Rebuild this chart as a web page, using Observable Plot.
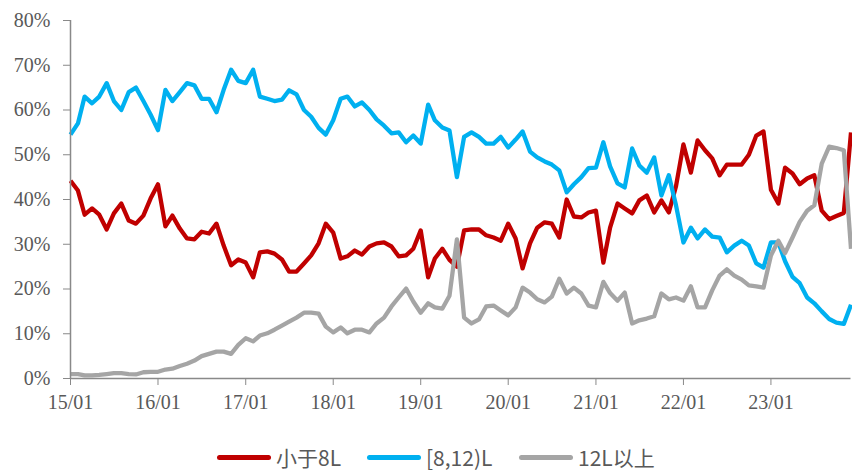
<!DOCTYPE html>
<html>
<head>
<meta charset="utf-8">
<script src="https://cdn.jsdelivr.net/npm/d3@7"></script>
<script src="https://cdn.jsdelivr.net/npm/@observablehq/plot@0.6"></script>
<style>
  html, body { margin: 0; padding: 0; background: #fff; }
  body { width: 852px; height: 472px; overflow: hidden; position: relative; }
  #chart svg text { fill: #595959; }
  #legend { position: absolute; left: 0; top: 440px; width: 852px; height: 32px; }
  .item { position: absolute; top: 1px; height: 32px; display: flex; align-items: center;
          font-family: "Noto Sans CJK SC", "Noto Sans", sans-serif; font-size: 21px; color: #595959; white-space: nowrap; }
  .sw { display: inline-block; width: 54px; height: 5px; border-radius: 3px; margin-right: 5px; }
</style>
</head>
<body>
<div id="chart"></div>
<div id="legend"></div>
<script>
// ---- data (percent), monthly from 2015-01 to 2023-12 ----
const seriesNames = ["小于8L", "[8,12)L", "12L以上"];
const seriesColors = ["#C00000", "#00B0F0", "#A5A5A5"];

const small = [
  44.2, 42, 36.6, 38, 36.6, 33.3, 36.9, 39.1, 35.3, 34.6, 36.4, 40.2,
  43.4, 34, 36.4, 33.5, 31.3, 31.1, 32.8, 32.4, 34.6, 29.7, 25.3, 26.6,
  25.9, 22.6, 28.2, 28.4, 27.9, 26.6, 23.9, 23.9, 25.7, 27.5, 30.2, 34.6,
  32.6, 26.8, 27.3, 28.6, 27.7, 29.5, 30.2, 30.4, 29.5, 27.3, 27.5, 29,
  33.1, 22.6, 26.8, 29, 26.5, 25, 33.1, 33.3, 33.3, 32, 31.5, 30.8,
  34.6, 31.3, 24.6, 30.2, 33.7, 34.9, 34.6, 31.5, 40, 36.2, 36, 37.1,
  37.5, 25.9, 33.7, 39.1, 38, 36.9, 39.8, 40.9, 37.1, 39.8, 37.1, 43,
  52.3, 46, 53.2, 51, 49.2, 45.4, 47.8, 47.8, 47.8, 50, 54.3, 55.2,
  42.2, 39.1, 47.1, 45.8, 43.4, 44.7, 45.4, 37.5, 35.6, 36.3, 37, 55
];
const mid = [
  54.5, 57, 63, 61.5, 63, 66, 62, 60, 64, 65, 62, 59,
  55.5, 64.5, 62, 64, 66, 65.5, 62.5, 62.5, 59.5, 64.5, 69, 66.5,
  66, 69, 63, 62.5, 62, 62.3, 64.4, 63.5, 60, 58.5, 56, 54.5,
  57.7, 62.5, 63, 60.8, 61.7, 60, 57.9, 56.5, 54.8, 55, 52.8, 54.3,
  52.5, 61.2, 57.7, 56.1, 55.4, 45, 54, 55, 54, 52.5, 52.5, 54,
  51.6, 53.4, 55.2, 50.7, 49.4, 48.5, 47.8, 46.5, 41.6, 43.4, 45, 47,
  47.1, 52.8, 47.4, 43.6, 42.7, 51.4, 47.6, 46, 49.4, 40.9, 45.4, 38.7,
  30.4, 33.7, 31.3, 33.3, 31.7, 31.5, 28.2, 29.7, 30.8, 29.7, 25.7, 24.8,
  30.4, 30.4, 26.2, 22.7, 21.3, 18.1, 16.8, 15, 13.3, 12.5, 12.2, 16.5
];
const large = [
  1.0, 1.0, 0.7, 0.7, 0.8, 1.0, 1.2, 1.2, 1.0, 0.9, 1.4, 1.5,
  1.5, 2.0, 2.2, 2.8, 3.3, 4.0, 5.0, 5.5, 6.0, 6.0, 5.5, 7.5,
  9.0, 8.3, 9.6, 10.1, 10.9, 11.8, 12.7, 13.6, 14.7, 14.7, 14.5, 11.6,
  10.3, 11.4, 10.1, 10.9, 10.9, 10.3, 12.3, 13.6, 16.1, 18.1, 20.1, 17.2,
  14.7, 16.8, 15.9, 15.6, 18.5, 31.1, 13.6, 12.3, 13.2, 16.1, 16.3, 15.2,
  14.1, 15.9, 20.3, 19.2, 17.7, 17, 18.3, 22.3, 19, 20.3, 19, 16.3,
  15.9, 21.6, 19.1, 17.4, 19.2, 12.3, 13, 13.4, 13.9, 19, 17.7, 18.1,
  17.4, 20.6, 15.9, 15.9, 19.7, 23, 24.4, 23, 22.1, 20.8, 20.6, 20.3,
  27.5, 30.8, 28, 31.5, 35, 37.5, 38.7, 48, 51.8, 51.5, 51, 29
];
const xTickLabels = ["15/01", "16/01", "17/01", "18/01", "19/01", "20/01", "21/01", "22/01", "23/01"];
const yTickLabels = ["0%", "10%", "20%", "30%", "40%", "50%", "60%", "70%", "80%"];

// ---- build table ----
const months = d3.utcMonth.range(new Date(Date.UTC(2015, 0, 1)), new Date(Date.UTC(2024, 0, 1)));
const rows = [];
[small, mid, large].forEach((arr, k) => arr.forEach((v, i) => rows.push({date: months[i], value: v / 100, series: seriesNames[k]})));
const xTicks = xTickLabels.map(s => new Date(Date.UTC(2000 + +s.slice(0, 2), +s.slice(3) - 1, 1)));
const yTicks = yTickLabels.map(s => parseFloat(s) / 100);

const axisColor = "#898989";

const chart = Plot.plot({
  width: 852,
  height: 440,
  marginLeft: 70,
  marginRight: 1.5,
  marginTop: 20,
  marginBottom: 62,
  style: {fontFamily: "'Liberation Serif', 'Times New Roman', serif", fontSize: "20px", color: axisColor, background: "#fff"},
  x: {type: "utc", domain: [months[0], months[months.length - 1]]},
  y: {domain: [0, 0.8]},
  color: {domain: seriesNames, range: seriesColors},
  marks: [
    Plot.line(rows, {x: "date", y: "value", z: "series", stroke: "series", strokeWidth: 4.3, strokeLinejoin: "round", strokeLinecap: "butt"}),
    Plot.ruleX([months[0]], {stroke: axisColor, strokeWidth: 1.5}),
    Plot.ruleY([0], {stroke: axisColor, strokeWidth: 1.5}),
    Plot.axisX({ticks: xTicks, tickFormat: (d, i) => xTickLabels[i], tickSize: 7, tickPadding: 9, label: null, stroke: axisColor}),
    Plot.axisY({ticks: yTicks, tickFormat: (d, i) => yTickLabels[i], tickSize: 7, tickPadding: 13, label: null, stroke: axisColor})
  ]
});
document.getElementById("chart").appendChild(chart);

// ---- legend ----
const legendLeft = [217, 367, 519];
const legend = document.getElementById("legend");
seriesNames.forEach((name, i) => {
  const it = document.createElement("div");
  it.className = "item";
  it.style.left = legendLeft[i] + "px";
  const sw = document.createElement("span");
  sw.className = "sw";
  sw.style.background = seriesColors[i];
  const tx = document.createElement("span");
  tx.textContent = name;
  it.appendChild(sw);
  it.appendChild(tx);
  legend.appendChild(it);
});
</script>
</body>
</html>
